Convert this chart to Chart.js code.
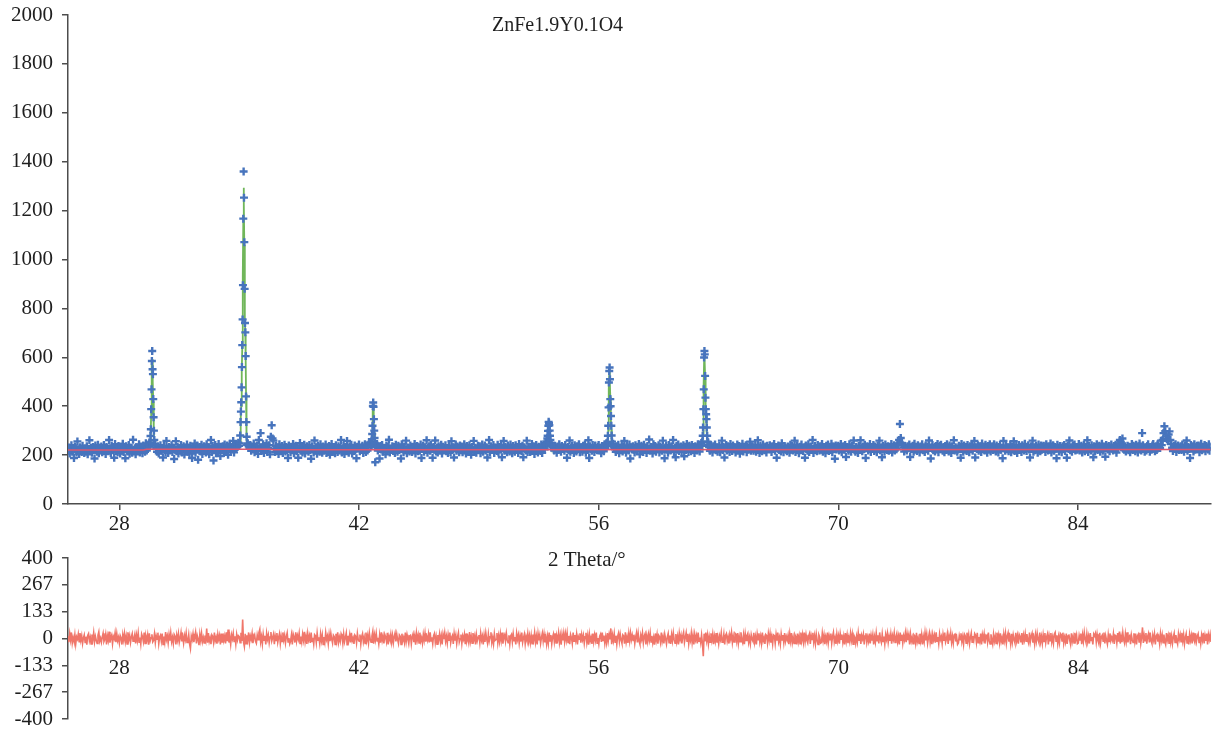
<!DOCTYPE html>
<html>
<head>
<meta charset="utf-8">
<title>ZnFe1.9Y0.1O4</title>
<script src="https://cdn.jsdelivr.net/npm/chart.js@4.4.1/dist/chart.umd.min.js"></script>
<style>
  html, body { margin: 0; padding: 0; background: #ffffff; }
  #wrap { position: relative; width: 1217px; height: 731px; overflow: hidden; background: #ffffff; }
  canvas { position: absolute; left: 0; }
  #pattern { top: 0; }
  #residual { top: 540px; }
</style>
</head>
<body>
<div id="wrap">
  <canvas id="pattern" width="1217" height="540"></canvas>
  <canvas id="residual" width="1217" height="191"></canvas>
</div>
<script>
// ---- 2θ grid of the measured scan ----
const thetaStart = 25;
const thetaStep = 0.05;
const thetaMin = 25;
const thetaMax = 91.75;

// Observed intensity on the regular grid (one row per degree); null where the
// finer peak scans below take over.
const observed = [
  218,231,207,226,240,214,222,188,235,228,211,256,219,205,232,225,213,238,221,209, // 25
  227,215,236,203,224,261,217,229,210,233,221,186,239,226,214,242,208,230,219,235, // 26
  212,228,241,219,205,233,224,216,262,227,209,238,220,231,189,245,217,226,212,237, // 27
  223,207,234,218,246,213,229,187,236,222,215,241,206,231,224,210,263,219,228,203, // 28
  232,217,226,244,211,235,221,208,239,227,214,248,219,230,243,252,null,null,null,null, // 29
  null,null,245,228,214,236,207,224,240,218,229,190,237,221,212,258,226,209,233,219, // 30
  226,240,213,231,184,222,257,216,234,207,228,219,241,211,225,236,202,230,217,243, // 31
  214,229,206,238,223,188,234,218,247,210,227,239,181,224,233,215,242,205,221,236, // 32
  228,211,244,219,232,203,226,262,213,237,178,223,241,208,230,217,245,225,196,234, // 33
  220,236,209,243,226,214,239,201,228,246,217,232,224,258,211,238,229,244,233,251, // 34
  238,null,null,null,null,null,null,null,null,null,248,236,229,241,218,233,224,247,212,230, // 35
  221,239,205,262,227,290,231,218,244,209,236,225,248,213,229,240,203,275,322,268, // 36
  259,226,213,238,219,231,205,244,224,216,237,209,228,242,215,233,221,188,239,225, // 37
  212,234,227,245,208,222,238,216,231,189,226,249,218,235,211,229,242,207,224,236, // 38
  230,214,241,221,185,236,225,211,260,219,232,206,238,223,214,244,228,210,235,218, // 39
  226,243,209,231,220,237,201,228,245,215,233,222,208,240,226,213,236,219,230,262, // 40
  211,227,238,204,233,219,258,225,210,236,221,242,207,229,217,239,224,187,234,228, // 41
  243,216,230,222,238,209,227,244,213,235,219,231,247,252,250,null,null,null,null,171, // 42
  232,245,219,228,186,237,223,241,214,230,226,203,239,218,234,263,211,227,222,236, // 43
  217,233,209,242,225,214,238,221,230,186,244,227,212,235,220,259,208,231,224,215, // 44
  239,222,213,234,228,245,207,226,237,216,231,219,243,188,229,238,214,232,221,261, // 45
  210,229,236,218,241,225,189,233,222,260,215,230,211,236,226,219,242,207,234,223, // 46
  228,240,216,227,209,238,224,213,257,221,232,190,229,243,218,235,225,212,239,220, // 47
  235,212,229,244,220,207,237,226,215,240,228,201,233,222,258,217,230,210,226,238, // 48
  221,236,208,230,243,214,227,239,219,232,190,226,262,213,236,222,229,241,209,231, // 49
  226,217,242,211,233,224,237,191,229,258,218,234,221,212,239,227,215,243,230,208, // 50
  237,223,214,240,226,231,209,245,220,228,216,238,191,232,225,219,259,213,235,222, // 51
  213,230,245,219,236,205,228,241,222,211,234,226,217,243,209,231,240,224,249,256, // 52
  null,null,null,null,null,245,236,231,219,238,226,210,235,221,244,229,214,237,225,232, // 53
  218,241,227,189,233,220,260,214,229,237,223,209,240,226,215,236,228,244,212,231, // 54
  225,214,238,229,243,210,232,221,261,188,236,224,218,241,230,213,239,226,220,234, // 55
  241,219,230,208,237,225,216,244,229,248,null,null,null,null,null,null,null,246,231,224, // 56
  213,236,227,242,208,230,221,239,215,233,258,224,210,237,228,219,243,186,232,225, // 57
  236,222,211,240,229,217,234,245,203,228,238,220,213,242,226,231,209,237,224,264, // 58
  219,233,226,207,244,221,237,214,230,225,240,211,235,228,218,259,223,187,231,239, // 59
  228,210,241,232,219,236,225,262,212,229,191,237,222,243,217,230,235,214,227,240, // 60
  195,234,221,245,226,213,238,229,216,241,222,233,209,236,227,219,244,230,215,238, // 61
  249,null,null,null,null,null,null,null,252,233,218,240,225,211,236,229,243,220,232,214, // 62
  225,238,212,230,259,221,234,190,227,241,219,236,224,213,245,230,217,239,226,232, // 63
  211,229,243,224,237,206,231,220,246,215,233,227,240,212,235,222,229,255,218,236, // 64
  233,218,226,241,214,230,261,223,209,237,228,216,243,231,220,235,211,238,225,229, // 65
  240,224,213,236,229,245,218,232,189,227,239,221,234,215,248,226,212,237,230,222, // 66
  216,235,228,210,242,223,237,219,231,259,213,226,240,225,208,234,221,243,229,217, // 67
  231,189,239,226,218,244,213,230,235,221,262,209,228,237,224,216,241,232,219,236, // 68
  222,245,214,233,227,208,238,226,243,217,230,221,246,212,235,228,185,239,223,231, // 69
  238,219,230,245,212,228,236,222,241,192,233,226,218,244,229,214,237,225,260,220, // 70
  214,233,226,209,238,221,261,230,216,235,224,242,188,229,236,219,231,245,213,227, // 71
  229,241,217,235,224,212,239,228,259,220,231,191,237,225,214,243,233,221,236,218, // 72
  234,222,245,211,228,240,219,233,224,247,248,262,327,270,250,242,231,215,237,228, // 73
  219,236,228,243,192,231,225,238,214,246,222,233,217,240,229,211,235,226,244,220, // 74
  227,213,239,224,235,218,260,229,186,232,241,220,228,215,237,223,245,212,231,238, // 75
  242,226,218,233,212,237,221,244,230,215,239,227,209,236,224,261,219,232,226,214, // 76
  223,238,231,189,245,226,214,239,222,233,217,241,229,212,236,225,243,218,230,258, // 77
  190,232,225,240,218,230,236,213,247,224,228,219,242,233,210,237,226,244,215,231, // 78
  236,221,244,228,215,239,226,211,233,241,222,230,187,258,227,218,238,224,232,216, // 79
  228,243,212,235,223,257,217,230,238,209,226,241,221,234,213,240,228,219,246,225, // 80
  217,231,240,223,190,236,229,259,214,232,220,238,225,210,243,231,216,239,222,235, // 81
  238,226,213,244,231,219,235,222,247,211,229,240,218,233,226,187,242,230,215,237, // 82
  224,212,236,229,241,217,233,189,238,226,260,220,231,214,239,227,243,219,230,222, // 83
  231,245,219,226,238,211,229,242,216,234,222,261,213,237,225,219,240,228,191,236, // 84
  215,233,244,221,230,238,214,227,246,218,235,226,193,241,232,223,237,216,229,243, // 85
  226,219,237,229,242,210,234,225,248,262,255,231,268,240,222,236,215,229,238,220, // 86
  234,212,229,245,221,238,226,216,242,230,211,236,247,224,219,290,240,225,214,231, // 87
  219,237,244,226,214,231,222,239,245,228,216,236,221,243,238,233,229,259,241,262, // 88
  290,318,298,276,266,258,284,297,262,245,230,217,238,226,244,213,232,239,221,228, // 89
  236,221,243,227,214,239,230,260,218,233,225,188,241,228,236,215,244,222,231,238, // 90
  224,239,212,233,246,220,231,227,241,216,237,229,223,244,218,235                  // 91
];

// Finer scans across the reflections: 2θ, observed and calculated intensity.
const peakTheta = [
  29.78,29.80,29.82,29.84,29.86,29.88,29.90,29.92,29.94,29.96,29.98,30.00,30.02,30.04,30.06,
  35.04,35.06,35.08,35.10,35.12,35.14,35.16,35.18,35.20,35.22,35.24,35.26,35.28,35.30,35.32,35.34,35.36,35.38,35.40,35.42,35.44,35.46,
  42.71,42.73,42.75,42.77,42.79,42.81,42.83,42.85,42.87,42.89,42.91,42.93,42.95,
  52.96,52.98,53.00,53.02,53.04,53.06,53.08,53.10,53.12,53.14,53.16,53.18,53.20,53.22,53.24,
  56.50,56.52,56.54,56.56,56.58,56.60,56.62,56.64,56.66,56.68,56.70,56.72,56.74,56.76,56.78,56.80,
  62.04,62.06,62.08,62.10,62.12,62.14,62.16,62.18,62.20,62.22,62.24,62.26,62.28,62.30,62.32,62.34,62.36,62.38
];
const peakObserved = [
  235,250,278,306,388,469,585,626,551,531,429,355,300,262,240,
  248,280,335,378,416,477,560,650,755,895,1167,1360,1253,1071,880,740,702,605,440,335,275,242,
  238,255,265,286,320,401,415,398,347,300,270,250,236,
  240,252,268,279,299,320,336,330,322,300,279,262,250,241,235,
  238,252,279,320,395,497,544,558,510,429,400,360,320,280,255,238,
  238,255,279,313,388,469,599,626,612,524,435,388,367,347,313,279,255,240
];
const peakCalculated = [
  224,232,248,285,370,480,575,592,560,500,420,350,295,258,236,
  228,250,300,350,400,460,540,640,760,930,1150,1293,1230,1060,880,760,690,590,450,340,270,235,
  225,232,245,275,330,385,400,380,335,292,262,242,230,
  224,230,242,258,278,296,306,304,292,274,256,242,232,226,223,
  225,233,255,300,380,470,530,540,505,440,395,350,305,270,245,230,
  224,232,250,290,370,480,580,612,590,520,450,400,365,330,295,265,245,230
];

// Refined background.
const backgroundTheta = [25, 29.4, 29.6, 36.8, 37.0, 91.75];
const backgroundLevel = [221, 221, 224, 224, 222, 223];

// Difference curve (observed - calculated), 0.05° grid, one row per degree.
const diffStart = 25;
const diffStep = 0.05;
const difference = [
  12,-18,25,-7,30,-22,5,-14,19,-28,8,-3,22,-16,27,-9,14,-25,3,18,          // 25
  -20,9,-31,15,24,-12,6,-27,20,-5,29,-17,11,-8,-24,16,33,-13,2,-19,        // 26
  7,26,-15,-4,21,-29,13,-10,34,-21,4,17,-26,10,-2,28,-18,23,-11,6,         // 27
  -23,14,3,-30,19,-8,25,-16,11,-27,31,-6,15,-20,8,24,-14,-1,20,-25,        // 28
  17,-10,27,-19,5,-28,22,9,-15,30,-24,12,-7,18,-31,26,-12,3,21,-17,        // 29
  -9,23,-21,14,-4,29,-26,7,16,-13,25,-30,10,-18,32,-5,13,-22,19,-11,       // 30
  28,-16,6,-25,20,11,-29,17,-8,24,-19,2,30,-14,9,-23,15,-6,27,-20,         // 31
  -12,19,-27,-50,12,-6,23,-18,8,31,-24,14,-3,-33,21,-10,26,-16,5,-22,      // 32
  15,-8,50,-21,27,-14,3,-28,18,10,-19,29,-11,6,-26,22,-4,16,-30,24,        // 33
  -17,25,-9,13,-24,31,-13,45,-20,7,-29,18,-2,26,-15,11,-27,20,-7,14,       // 34
  9,-21,28,-12,94,-18,-40,23,-26,16,-8,30,-20,12,-5,25,-23,8,19,-14,       // 35
  -24,17,-6,29,45,-16,10,-27,22,-9,14,-30,26,-3,18,-21,7,32,-12,4,         // 36
  21,-28,13,-10,27,-19,5,24,-25,11,-15,30,-7,16,-22,9,28,-17,2,-26,        // 37
  -11,18,-29,23,7,-20,31,-13,15,-4,26,-24,10,-18,21,-8,33,-16,12,-27,      // 38
  25,-7,14,-22,30,-15,4,-28,19,13,-21,27,-9,6,-25,22,-12,17,-30,8,         // 39
  -18,29,-5,12,-26,20,-13,26,-3,-23,16,9,-29,24,-10,31,-19,7,-14,23,       // 40
  10,-24,22,-16,5,27,-31,14,-8,19,-20,28,-11,3,-27,17,11,-22,25,-6,        // 41
  -13,20,-28,9,24,-17,6,-25,30,-10,15,-21,27,-4,-19,12,35,-26,18,-8,       // 42
  26,-12,4,-27,17,-21,31,-9,13,-24,20,7,-16,28,-30,11,-5,22,-18,15,        // 43
  -22,9,27,-14,21,-6,-25,18,11,-29,24,-11,5,-20,30,-15,19,-3,-26,13,       // 44
  16,-27,8,23,-18,12,-31,26,-7,17,-22,29,-13,4,-24,20,-9,27,-16,10,        // 45
  -8,22,-19,31,-12,6,-26,14,25,-20,9,-28,18,-5,23,-17,12,-30,21,-3,        // 46
  28,-14,11,-23,19,-9,30,-21,5,15,-27,24,-10,16,-25,8,29,-18,-2,20,        // 47
  -25,13,-4,21,-28,25,-11,7,-19,32,-15,10,-23,27,-6,14,-29,19,-12,6,       // 48
  18,-20,26,-8,12,-30,16,-17,28,-3,-24,22,-13,9,31,-21,4,-27,23,-9,        // 49
  -5,27,-22,14,-16,24,-10,30,-26,8,19,-14,25,-7,-21,16,-28,12,20,-18,      // 50
  23,-11,7,-29,26,-4,18,-23,13,-15,29,-20,3,21,-27,10,-8,25,-16,14,        // 51
  -21,15,-26,20,-6,29,-18,11,-30,24,-9,16,-24,6,27,-13,22,-19,9,-28,       // 52
  11,-23,30,-12,17,-27,8,23,-15,26,-22,12,-5,28,-19,14,-31,20,-10,25,      // 53
  -16,24,-8,27,-20,13,-28,19,4,-25,30,-14,17,-9,22,-29,10,-3,26,-21,       // 54
  20,-6,16,-24,9,28,-19,14,-31,21,-11,6,-27,25,-16,18,-8,29,-23,3,         // 55
  -27,12,22,-17,30,-10,15,-25,8,-21,27,-13,19,-4,50,-28,16,-11,24,-19,     // 56
  14,-29,10,26,-15,21,-7,-24,18,12,-26,31,-17,8,-22,25,-12,28,-6,17,       // 57
  -10,19,-25,7,29,-20,24,-13,-28,16,-5,27,-21,11,23,-30,13,-16,20,-8,      // 58
  27,-17,13,-22,4,-31,25,-9,20,-26,15,7,-19,30,-14,10,-24,21,-2,-27,       // 59
  8,25,-21,15,-27,19,-12,28,-6,-23,22,-16,11,-29,26,-4,17,-25,13,31,       // 60
  -19,6,29,-14,23,-26,9,-10,27,-20,16,-30,21,-7,14,-24,30,-13,5,-22,       // 61
  17,-23,-88,24,-15,30,-11,18,-27,9,-18,26,-8,22,-28,12,-14,27,-21,7,      // 62
  -26,13,-5,28,-18,-9,22,-29,15,24,-13,8,-25,19,-3,29,-20,11,-17,26,       // 63
  21,-12,27,-24,10,-16,31,-7,-21,17,-28,23,-10,14,25,-19,6,-26,18,-4,      // 64
  -14,28,-19,9,-30,22,-6,26,-17,11,-23,29,-12,4,-27,20,15,-22,24,-9,       // 65
  24,-21,8,-27,18,14,-25,20,-11,30,-16,5,-28,23,-7,17,-20,27,-13,10,       // 66
  -7,16,-28,23,-12,27,-20,6,-24,19,9,-29,25,-15,12,-26,30,-10,20,-17,      // 67
  29,-15,19,-9,-22,11,24,-27,16,-5,28,-19,13,-25,21,-8,-30,18,7,-23,       // 68
  -20,26,-11,17,-28,8,-14,29,-22,14,-6,25,-24,10,30,-18,4,-27,22,-12,      // 69
  13,-26,24,-3,20,-19,10,-30,27,-13,18,-23,7,-16,26,-9,21,-28,15,5,        // 70
  -24,11,-17,29,-8,23,-27,15,-2,21,-29,12,26,-20,8,-14,24,-25,16,-10,      // 71
  19,-30,9,-18,27,-11,16,-24,30,-6,-21,23,-15,10,-28,19,-4,25,-19,12,      // 72
  -12,22,-26,14,-5,28,-20,7,24,-16,11,-29,30,-9,19,-23,13,-7,27,-18,       // 73
  25,-8,17,-29,21,-13,6,-26,18,12,-22,28,-16,3,-25,24,-11,20,-30,9,        // 74
  -17,29,-10,22,-24,4,27,-19,13,-28,20,-7,16,-21,31,-14,8,-26,23,-5,       // 75
  10,-25,20,-12,30,-18,-3,24,-27,15,-9,26,-20,11,-24,18,22,-15,6,-29,      // 76
  -22,14,-6,26,-16,9,-28,21,12,-23,29,-11,18,-26,5,27,-19,13,-8,24,        // 77
  16,-19,28,-21,7,-14,25,-30,19,-4,23,-25,10,15,-18,30,-12,-27,21,-7,      // 78
  -28,20,-13,11,-25,29,-9,17,-20,26,-15,4,-29,22,-10,25,-23,12,28,-16,     // 79
  7,-27,23,-17,18,-5,-22,28,-12,14,-26,20,9,-19,27,-31,16,-8,24,-14,       // 80
  22,-9,-24,30,-15,12,26,-21,5,-28,19,-13,25,-6,-20,29,-17,10,-25,18,      // 81
  -15,27,-20,8,23,-29,14,-11,27,-18,7,-24,21,30,-13,16,-26,9,-21,25,       // 82
  19,-12,29,-23,6,-17,24,-27,12,20,-9,-30,26,-14,10,-22,28,-5,17,-26,      // 83
  -23,15,-7,25,-28,18,-14,30,-3,-20,23,-16,11,-25,27,-10,8,-29,22,13,      // 84
  26,-18,21,-10,-26,28,-22,9,17,-13,30,-24,14,-8,-28,19,-15,25,-11,6,      // 85
  -9,23,-27,16,12,-21,27,-16,35,-25,10,-18,29,-7,-23,22,-13,31,-19,8,      // 86
  14,-28,18,-6,-20,26,-14,24,-29,11,20,-17,28,-24,7,55,-22,15,-11,27,      // 87
  -26,10,25,-19,29,-12,-25,17,-8,22,-30,13,21,-16,6,-27,24,-10,18,-21,     // 88
  20,-14,-29,27,-7,15,-23,30,-18,12,-25,8,26,-20,17,-11,-28,23,-4,19,      // 89
  -16,28,-12,19,-27,6,24,-22,13,-30,21,-9,16,-25,29,-6,-19,26,-14,11,      // 90
  23,-20,9,-26,17,-8,28,-24,14,-12,25,-29,19,-5,21,-17                     // 91
];

// Axis ticks
const thetaTicks = [28, 42, 56, 70, 84];
const intensityMax = 2000;
const intensityStep = 200;
const diffTickValues = [-400, -266.67, -133.33, 0, 133.33, 266.67, 400];
const diffTickLabels = ['-400', '-267', '-133', '0', '133', '267', '400'];

// ---- styling ----
const serif = "'Liberation Serif', 'Times New Roman', serif";
const textColor = '#1f1f1f';
const axisColor = '#4d4d4d';

// ---- build point lists ----
const obsPoints = [];
observed.forEach((v, i) => {
  if (v !== null) obsPoints.push({ x: +(thetaStart + i * thetaStep).toFixed(2), y: v });
});
peakTheta.forEach((t, i) => obsPoints.push({ x: t, y: peakObserved[i] }));

// calculated profile, broken between separate reflections
const calcPoints = [];
peakTheta.forEach((t, i) => {
  if (i > 0 && t - peakTheta[i - 1] > 0.05) calcPoints.push({ x: (t + peakTheta[i - 1]) / 2, y: null });
  calcPoints.push({ x: t, y: peakCalculated[i] });
});

const bgPoints = backgroundTheta.map((t, i) => ({ x: t, y: backgroundLevel[i] }));
const diffPoints = difference.map((v, i) => ({ x: +(diffStart + i * diffStep).toFixed(2), y: v }));

// ---- helpers ----
const fixedTicks = (values) => (scale) => { scale.ticks = values.map(v => ({ value: v })); };
// fixed axis width; labels may overhang the plot edges instead of shrinking it
const fixedYAxis = (width) => (scale) => { scale.width = width; scale.paddingTop = 0; scale.paddingBottom = 0; };

const captionPlugin = {
  id: 'captions',
  afterDraw(chart, args, opts) {
    const { ctx, scales } = chart;
    ctx.save();
    (opts.items || []).forEach(item => {
      ctx.font = item.size + 'px ' + serif;
      ctx.fillStyle = textColor;
      ctx.textAlign = 'center';
      ctx.textBaseline = 'middle';
      ctx.fillText(item.text, scales.x.getPixelForValue(item.x), scales.y.getPixelForValue(item.y));
    });
    ctx.restore();
  }
};

const tickFont = { family: serif, size: 21 };

// ---- diffraction pattern ----
new Chart(document.getElementById('pattern'), {
  type: 'scatter',
  plugins: [captionPlugin],
  data: {
    datasets: [
      { label: 'Background', data: bgPoints, showLine: true, borderColor: '#e0566f', borderWidth: 1.6, pointRadius: 0 },
      { label: 'Observed', data: obsPoints, pointStyle: 'cross', pointRadius: 4, borderWidth: 2.4,
        borderColor: '#4774bd', backgroundColor: '#4774bd' },
      { label: 'Calculated', data: calcPoints, showLine: true, spanGaps: false, borderColor: '#70b65a', borderWidth: 1.8, pointRadius: 0 }
    ]
  },
  options: {
    responsive: false,
    animation: false,
    events: [],
    layout: { padding: { top: 15, right: 6, left: 0, bottom: 0 } },
    plugins: {
      legend: { display: false },
      tooltip: { enabled: false },
      captions: { items: [{ text: 'ZnFe1.9Y0.1O4', x: 53.6, y: 1955, size: 20 }] }
    },
    scales: {
      x: {
        type: 'linear', min: thetaMin, max: thetaMax,
        afterBuildTicks: fixedTicks(thetaTicks),
        afterFit: (s) => { s.height = 36; },
        grid: { drawOnChartArea: false, drawTicks: true, tickLength: 6, color: axisColor, lineWidth: 1.5 },
        border: { display: true, color: axisColor, width: 1.5 },
        ticks: { font: tickFont, color: textColor, padding: 2, maxRotation: 0, autoSkip: false }
      },
      y: {
        min: 0, max: intensityMax,
        afterFit: fixedYAxis(68),
        grid: { drawOnChartArea: false, drawTicks: true, tickLength: 6, color: axisColor, lineWidth: 1.5 },
        border: { display: true, color: axisColor, width: 1.5 },
        ticks: { stepSize: intensityStep, font: tickFont, color: textColor, padding: 9, autoSkip: false,
                 callback: (v) => String(v) }
      }
    }
  }
});

// ---- difference curve ----
new Chart(document.getElementById('residual'), {
  type: 'scatter',
  plugins: [captionPlugin],
  data: {
    datasets: [
      { label: 'Difference', data: diffPoints, showLine: true, borderColor: '#f0766a', borderWidth: 1.6, pointRadius: 0 }
    ]
  },
  options: {
    responsive: false,
    animation: false,
    events: [],
    layout: { padding: { top: 18, right: 6, left: 0, bottom: 12 } },
    plugins: {
      legend: { display: false },
      tooltip: { enabled: false },
      captions: { items: [{ text: '2 Theta/\u00b0', x: 55.3, y: 390, size: 21 }] }
    },
    scales: {
      x: {
        type: 'linear', position: { y: 0 }, min: thetaMin, max: thetaMax,
        afterBuildTicks: fixedTicks(thetaTicks),
        grid: { display: false, drawTicks: false },
        border: { display: false },
        ticks: { font: tickFont, color: textColor, padding: 17, maxRotation: 0, autoSkip: false }
      },
      y: {
        min: -400, max: 400,
        afterBuildTicks: fixedTicks(diffTickValues),
        afterFit: fixedYAxis(68),
        grid: { drawOnChartArea: false, drawTicks: true, tickLength: 6, color: axisColor, lineWidth: 1.5 },
        border: { display: true, color: axisColor, width: 1.5 },
        ticks: { font: tickFont, color: textColor, padding: 9, autoSkip: false, callback: (v, i) => diffTickLabels[i] }
      }
    }
  }
});
</script>
</body>
</html>
